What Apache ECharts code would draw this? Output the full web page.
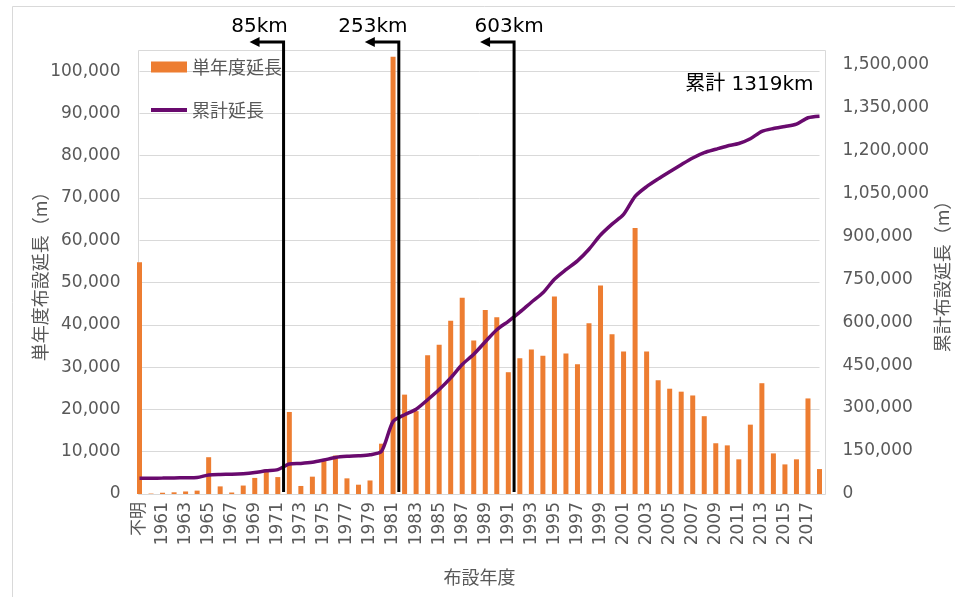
<!DOCTYPE html>
<html>
<head>
<meta charset="utf-8">
<script src="https://cdn.jsdelivr.net/npm/echarts@6/dist/echarts.min.js"></script>
<style>
  html, body { margin: 0; padding: 0; background: #fff; }
  #chart { width: 955px; height: 597px; }
</style>
</head>
<body>
<div id="chart"></div>
<script>
// 布設年度
const categories = [
    '不明', '1960', '1961', '1962', '1963', '1964', '1965', '1966', '1967', '1968', '1969',
    '1970', '1971', '1972', '1973', '1974', '1975', '1976', '1977', '1978', '1979',
    '1980', '1981', '1982', '1983', '1984', '1985', '1986', '1987', '1988', '1989',
    '1990', '1991', '1992', '1993', '1994', '1995', '1996', '1997', '1998', '1999',
    '2000', '2001', '2002', '2003', '2004', '2005', '2006', '2007', '2008', '2009',
    '2010', '2011', '2012', '2013', '2014', '2015', '2016', '2017', '2018'
];

// 単年度延長 (m)
const yearlyLength = [
    54800, 100, 300, 400, 600, 800, 8700, 1800, 350, 2000, 3800,
    5800, 4000, 19400, 1900, 4100, 7800, 9100, 3700, 2200, 3200,
    11900, 103400, 23500, 19600, 32800, 35300, 41000, 46400, 36300, 43500,
    41800, 28800, 32100, 34200, 32700, 46700, 33200, 30700, 40400, 49300,
    37800, 33700, 62900, 33700, 26900, 24900, 24200, 23300, 18400, 12000,
    11500, 8200, 16400, 26200, 9600, 7000, 8200, 22600, 5900
];

// 累計延長 (m)
const totalLength = [
    55000, 55200, 55500, 56000, 56700, 57600, 66500, 68400, 68900, 71000, 75000,
    81000, 85000, 104500, 106500, 110500, 118500, 127500, 131500, 133500, 137000,
    149000, 253000, 276500, 296000, 329000, 364500, 405500, 452000, 488000, 531500,
    573500, 603000, 635000, 669500, 702500, 749500, 783000, 814000, 854500, 904000,
    942000, 976000, 1039000, 1073000, 1100000, 1125000, 1149500, 1173000, 1191500, 1203500,
    1215000, 1223500, 1240000, 1266000, 1276000, 1283000, 1291000, 1313500, 1319000
];

// 注記（区切り線）
const markers = [
    { after: '1971', before: '1972', text: '85km', dx: -24 },
    { after: '1981', before: '1982', text: '253km', dx: -26 },
    { after: '1991', before: '1992', text: '603km', dx: -5 }
];
const totalNote = '累計 1319km';

const leftMax = 105000;
const rightMax = 1550000;

const gray = '#595959';
const gridColor = '#d9d9d9';
const barColor = '#ED7D31';
const lineColor = '#690a6e';
const latinFont = "'DejaVu Sans', 'Noto Sans CJK JP', sans-serif";
const cjkFont = "'Noto Sans CJK JP', sans-serif";

function formatNumber(value) {
    return value.toLocaleString('en-US');
}

const chart = echarts.init(document.getElementById('chart'), null, { renderer: 'canvas' });

const legendText = { fontSize: 18, color: gray, fontFamily: cjkFont };

const option = {
    animation: false,
    backgroundColor: '#fff',
    grid: {
        left: 139.5,
        right: 135.5,
        top: 50,
        bottom: 103,
        show: false,
        outerBoundsMode: 'none'
    },
    legend: [
        {
            left: 146,
            top: 53,
            itemWidth: 36,
            itemHeight: 11,
            textStyle: legendText,
            data: [{ name: '単年度延長', icon: 'rect' }]
        },
        {
            left: 146,
            top: 96,
            itemWidth: 36,
            itemHeight: 4,
            textStyle: legendText,
            data: [{ name: '累計延長', icon: 'rect' }]
        }
    ],
    xAxis: {
        type: 'category',
        data: categories,
        boundaryGap: false,
        name: '布設年度',
        nameLocation: 'middle',
        nameGap: 74,
        nameMoveOverlap: false,
        nameTextStyle: { fontSize: 18, color: gray, fontFamily: cjkFont },
        axisLine: { show: false },
        axisTick: { show: false },
        axisLabel: {
            interval: 1,
            rotate: 90,
            margin: 8,
            fontSize: 17,
            color: gray,
            fontFamily: latinFont
        },
        splitLine: { show: false }
    },
    yAxis: [
        {
            type: 'value',
            min: 0,
            max: leftMax,
            interval: 10000,
            name: '単年度布設延長（m）',
            nameLocation: 'middle',
            nameGap: 90,
            nameMoveOverlap: false,
            nameTextStyle: { fontSize: 18, color: gray, fontFamily: cjkFont },
            axisLine: { show: false },
            axisTick: { show: false },
            axisLabel: {
                showMaxLabel: false,
                margin: 19,
                fontSize: 17,
                color: gray,
                fontFamily: latinFont,
                formatter: formatNumber
            },
            splitLine: { lineStyle: { color: gridColor, width: 1 } }
        },
        {
            type: 'value',
            position: 'right',
            min: 0,
            max: rightMax,
            interval: 150000,
            name: '累計布設延長（m）',
            nameLocation: 'middle',
            nameGap: 114,
            nameMoveOverlap: false,
            nameTextStyle: { fontSize: 18, color: gray, fontFamily: cjkFont },
            axisLine: { show: false },
            axisTick: { show: false },
            axisLabel: {
                showMaxLabel: false,
                margin: 23,
                fontSize: 17,
                color: gray,
                fontFamily: latinFont,
                formatter: formatNumber
            },
            splitLine: { show: false }
        }
    ],
    series: [
        {
            name: '単年度延長',
            type: 'bar',
            yAxisIndex: 0,
            data: yearlyLength,
            barWidth: 5,
            itemStyle: { color: barColor }
        },
        {
            name: '累計延長',
            type: 'line',
            yAxisIndex: 1,
            data: totalLength,
            symbol: 'none',
            smooth: 0.25,
            lineStyle: { color: lineColor, width: 3.5 },
            itemStyle: { color: lineColor }
        }
    ]
};

chart.setOption(option);

// 注記と枠線はチャート座標から配置する
function buildGraphics() {
    const xOf = function (cat) { return chart.convertToPixel({ xAxisIndex: 0 }, cat); };
    const yZero = chart.convertToPixel({ yAxisIndex: 0 }, 0);
    const yTop = chart.convertToPixel({ yAxisIndex: 0 }, leftMax);
    const xFirst = xOf(categories[0]);
    const xLast = xOf(categories[categories.length - 1]);

    const elements = [];

    // 外枠
    elements.push({
        type: 'rect',
        z: 0,
        shape: { x: 12.5, y: 6.5, width: 1000, height: 1000 },
        style: { fill: 'none', stroke: gridColor, lineWidth: 1 }
    });

    // プロットエリア枠
    const boxLeft = Math.round(xFirst - 2) + 0.5;
    const boxRight = Math.round(xLast + 5.5) + 0.5;
    elements.push({
        type: 'rect',
        z: 1,
        shape: { x: boxLeft, y: Math.round(yTop) + 0.5, width: boxRight - boxLeft, height: Math.round(yZero) - Math.round(yTop) },
        style: { fill: 'none', stroke: gridColor, lineWidth: 1 }
    });

    const yArrow = yTop - 8;
    markers.forEach(function (m) {
        const x = (xOf(m.after) + xOf(m.before)) / 2;
        elements.push({
            type: 'polyline',
            z: 100,
            shape: { points: [[x, yZero - 2], [x, yArrow], [x - 25, yArrow]] },
            style: { fill: 'none', stroke: '#000', lineWidth: 3 }
        });
        elements.push({
            type: 'polygon',
            z: 100,
            shape: { points: [[x - 34, yArrow], [x - 24, yArrow - 5], [x - 24, yArrow + 5]] },
            style: { fill: '#000' }
        });
        elements.push({
            type: 'text',
            z: 100,
            x: x + m.dx,
            y: yTop - 23,
            style: {
                text: m.text,
                font: "20px 'DejaVu Sans', sans-serif",
                fill: '#000',
                align: 'center',
                verticalAlign: 'middle'
            }
        });
    });

    elements.push({
        type: 'text',
        z: 100,
        x: boxRight - 12,
        y: yTop + 35,
        style: {
            text: totalNote,
            font: "20px 'DejaVu Sans', 'Noto Sans CJK JP', sans-serif",
            fill: '#000',
            align: 'right',
            verticalAlign: 'middle'
        }
    });

    chart.setOption({ graphic: { elements: elements } });
}

buildGraphics();
</script>
</body>
</html>
